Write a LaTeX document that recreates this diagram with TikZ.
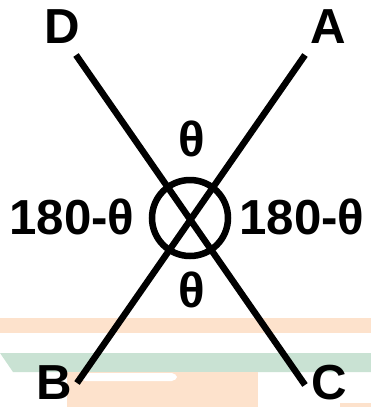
\documentclass[tikz,border=0pt]{standalone}
\usepackage{fontspec}
\setmainfont{Liberation Sans}
\definecolor{bandorange}{HTML}{FDE2CC}
\definecolor{bandgreen}{HTML}{C9E2D3}
\begin{document}
\begin{tikzpicture}[x=.02cm,y=-.02cm,line width=3.7pt,
  every node/.style={font=\fontsize{28}{28}\selectfont\bfseries,inner sep=0pt}]
  \path[use as bounding box] (0,0) rectangle (371,407);
  % faint bands behind the figure
  \fill[bandorange] (0,318) rectangle (371,333);
  \fill[bandgreen] (0,353) -- (371,353) -- (371,372) -- (13,372) -- cycle;
  \fill[bandorange] (67,372) rectangle (258,407);
  \fill[white, rounded corners=3pt] (80,373) rectangle (177,381);
  \fill[bandorange] (340,403) rectangle (371,407);
  % line ends and crossing
  \coordinate (D) at (76,55);
  \coordinate (C) at (305,385);
  \coordinate (A) at (305,55);
  \coordinate (B) at (77,383);
  \coordinate (O) at (190,218);
  \draw (D)--(C) (A)--(B);
  \draw (O) circle[radius=38];
  \node (labD) at (62,27) {D};
  \node (labA) at (328,27) {A};
  \node (labB) at (54,383) {B};
  \node (labC) at (329,383) {C};
  \node (top) at (192,139) {θ};
  \node (bot) at (192,290) {θ};
  \node (left) at (72,217) {180-θ};
  \node (right) at (302,217) {180-θ};
\end{tikzpicture}
\end{document}
